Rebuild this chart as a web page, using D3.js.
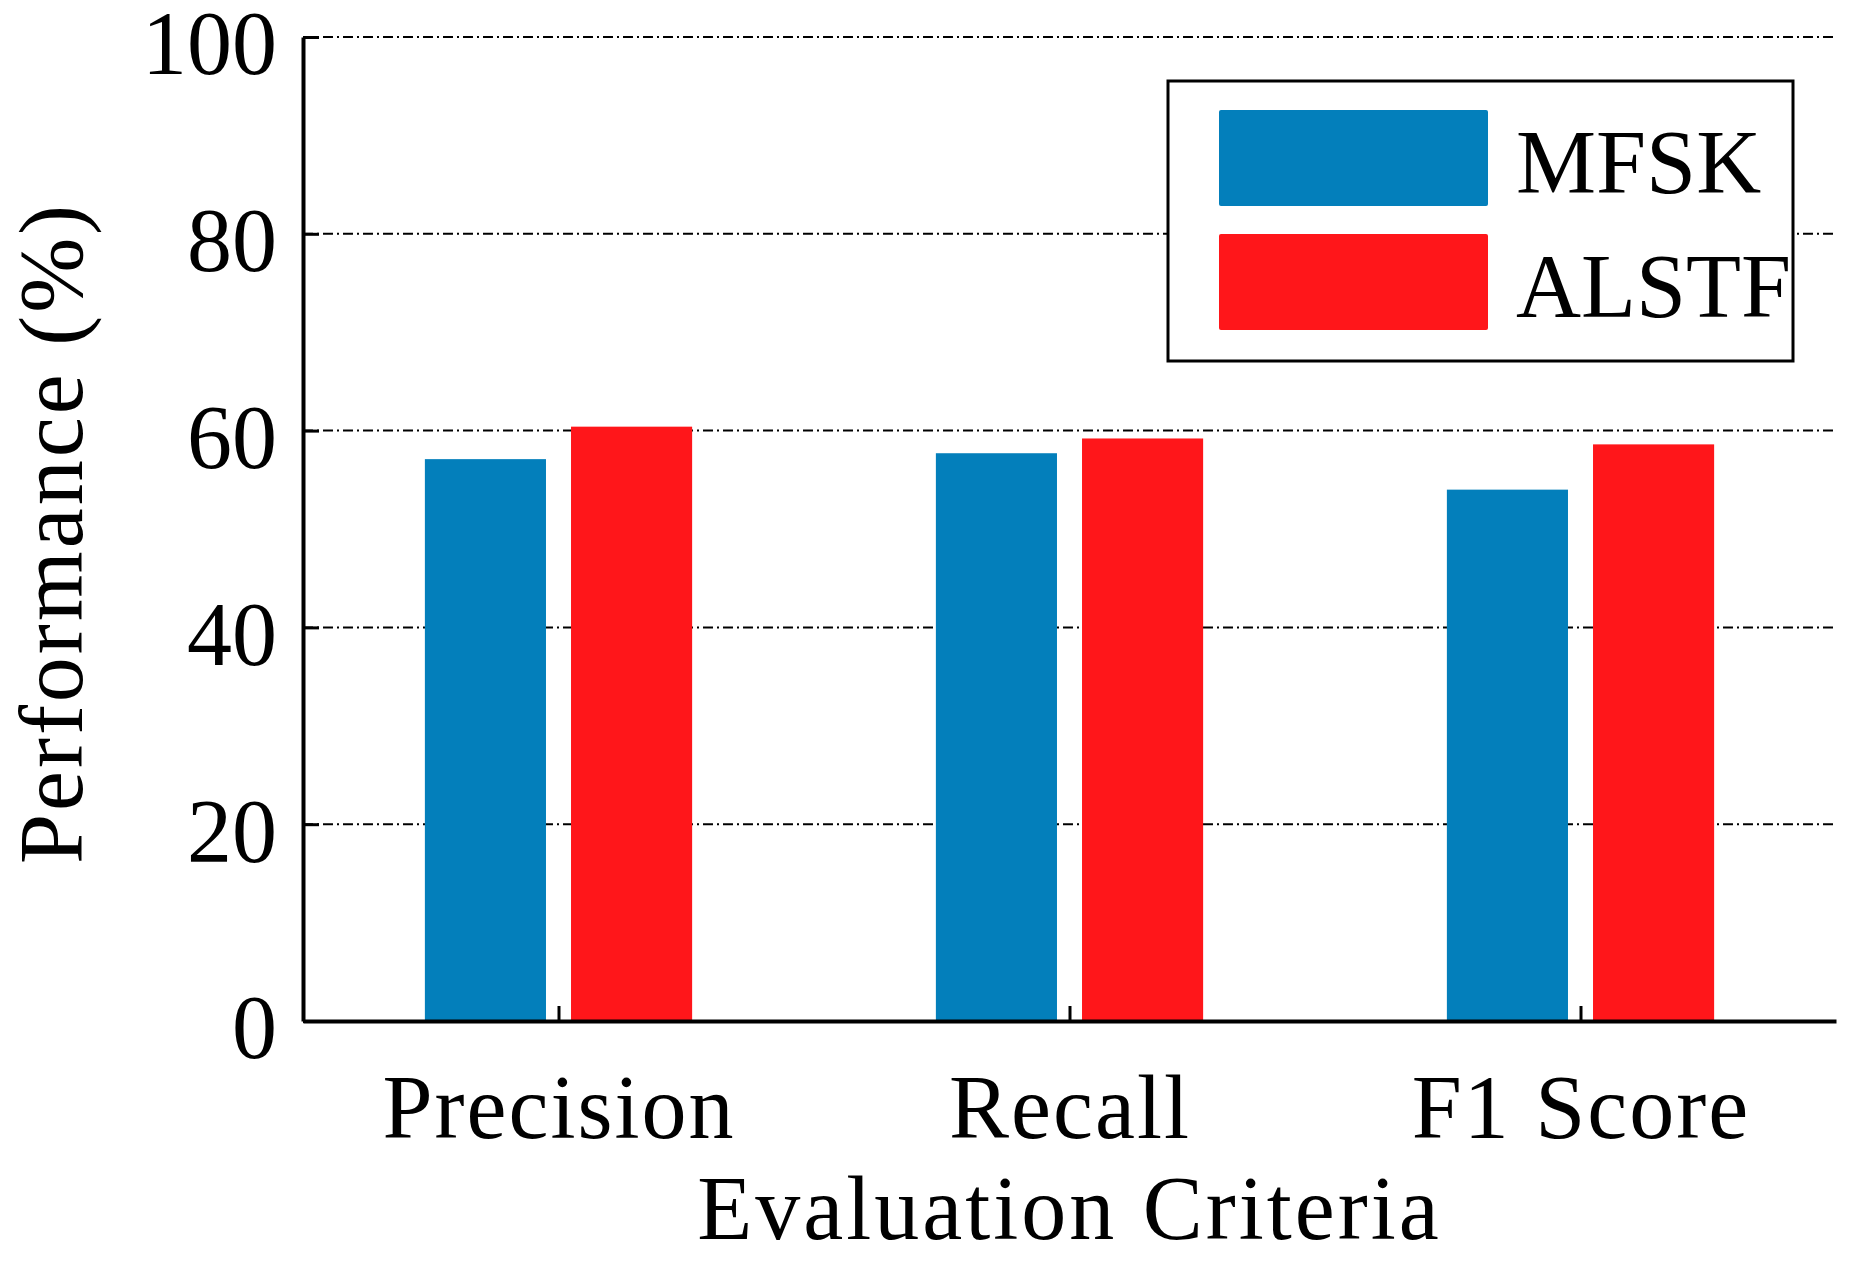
<!DOCTYPE html>
<html>
<head>
<meta charset="utf-8">
<script src="https://cdn.jsdelivr.net/npm/d3@7"></script>
<style>
  body { margin: 0; background: #fff; }
  text { font-family: "Liberation Serif", "DejaVu Serif", serif; fill: #000; }
</style>
</head>
<body>
<svg width="1858" height="1261"></svg>
<script>
var categories = ["Precision", "Recall", "F1 Score"];
var seriesNames = ["MFSK", "ALSTF"];
var mfskValues = [57.1, 57.7, 54.0];
var alstfValues = [60.4, 59.2, 58.6];
var yTickValues = [0, 20, 40, 60, 80, 100];
var seriesColors = ["#037fbb", "#ff161a"];

var svg = d3.select("svg"),
    width = +svg.attr("width"),
    height = +svg.attr("height");

var plotLeft = 303, plotRight = 1836, plotTop = 37, plotBottom = 1021;
var fontSize = 90;

var x = d3.scaleLinear().domain([0.5, 3.5]).range([plotLeft, plotRight]);
var y = d3.scaleLinear().domain([0, 100]).range([plotBottom, plotTop]);

var barWidth = 0.237, barOffset = 0.143;

// dash-dot grid lines
svg.append("g")
  .selectAll("line")
  .data(yTickValues.filter(function(d) { return d > 0; }))
  .enter().append("line")
    .attr("x1", plotLeft)
    .attr("x2", plotRight)
    .attr("y1", function(d) { return y(d); })
    .attr("y2", function(d) { return y(d); })
    .attr("stroke", "#000")
    .attr("stroke-width", 2)
    .attr("stroke-dasharray", "10,4,2,4");

// bars
var series = [mfskValues, alstfValues];
series.forEach(function(values, s) {
  var off = s === 0 ? -barOffset : barOffset;
  svg.append("g")
    .selectAll("rect")
    .data(values)
    .enter().append("rect")
      .attr("x", function(d, i) { return x(i + 1 + off - barWidth / 2); })
      .attr("width", x(barWidth) - x(0))
      .attr("y", function(d) { return y(d); })
      .attr("height", function(d) { return y(0) - y(d); })
      .attr("fill", seriesColors[s]);
});

// y axis
var yAxis = svg.append("g")
  .attr("transform", "translate(" + plotLeft + ",0)")
  .call(d3.axisLeft(y).tickValues(yTickValues).tickSizeInner(-16).tickSizeOuter(0).tickPadding(26));
yAxis.select(".domain").attr("stroke-width", 4);
yAxis.selectAll(".tick line").attr("stroke-width", 3);
yAxis.selectAll(".tick text")
  .attr("dy", "0.41em")
  .style("font-size", fontSize + "px")
  .style("font-family", "Liberation Serif");

// x axis
var xAxis = svg.append("g")
  .attr("transform", "translate(0," + plotBottom + ")")
  .call(d3.axisBottom(x).tickValues([1, 2, 3]).tickSizeInner(-15).tickSizeOuter(0)
    .tickFormat(function(d) { return categories[d - 1]; }));
xAxis.select(".domain").attr("stroke-width", 4);
xAxis.selectAll(".tick line").attr("stroke-width", 3);
xAxis.selectAll(".tick text")
  .attr("y", 117)
  .attr("dy", 0)
  .style("font-size", fontSize + "px")
  .style("letter-spacing", "2px")
  .style("font-family", "Liberation Serif");

// axis titles
svg.append("text")
  .attr("x", (plotLeft + plotRight) / 2)
  .attr("y", 1239)
  .attr("text-anchor", "middle")
  .style("font-size", fontSize + "px")
  .style("letter-spacing", "3px")
  .text("Evaluation Criteria");

svg.append("text")
  .attr("transform", "translate(82,533) rotate(-90)")
  .attr("text-anchor", "middle")
  .style("font-size", fontSize + "px")
  .style("letter-spacing", "3px")
  .text("Performance (%)");

// legend
var legend = svg.append("g");
legend.append("rect")
  .attr("x", 1168).attr("y", 81)
  .attr("width", 625).attr("height", 280)
  .attr("fill", "#fff")
  .attr("stroke", "#000")
  .attr("stroke-width", 3);

seriesNames.forEach(function(name, i) {
  legend.append("rect")
    .attr("x", 1219).attr("y", 110 + i * 124)
    .attr("width", 269).attr("height", 96)
    .attr("rx", 2)
    .attr("fill", seriesColors[i]);
  legend.append("text")
    .attr("x", 1516).attr("y", 193 + i * 124)
    .style("font-size", "90px")
    .text(name);
});
</script>
</body>
</html>
